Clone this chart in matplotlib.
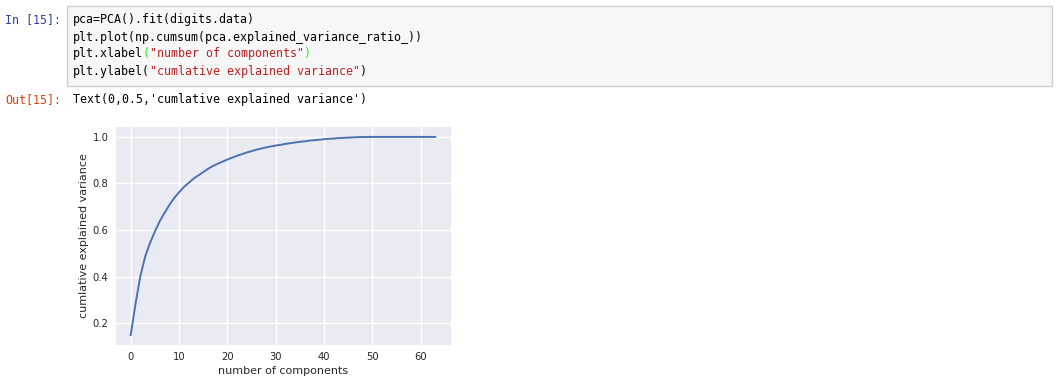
import matplotlib
matplotlib.use("Agg")
import matplotlib.pyplot as plt
from matplotlib.patches import Rectangle

# ---- data ----
components = list(range(64))
cumulative_variance = [
    0.149, 0.285, 0.403, 0.487, 0.545, 0.594, 0.638, 0.674, 0.708, 0.738,
    0.762, 0.785, 0.803, 0.821, 0.835, 0.849, 0.863, 0.875, 0.885, 0.894,
    0.903, 0.911, 0.919, 0.926, 0.933, 0.939, 0.945, 0.950, 0.955, 0.959,
    0.963, 0.966, 0.970, 0.973, 0.976, 0.979, 0.981, 0.984, 0.986, 0.988,
    0.990, 0.992, 0.993, 0.995, 0.996, 0.997, 0.998, 0.999, 0.9995, 0.9998,
    1.0, 1.0, 1.0, 1.0, 1.0, 1.0, 1.0, 1.0, 1.0, 1.0,
    1.0, 1.0, 1.0, 1.0,
]
x_ticks = [0, 10, 20, 30, 40, 50, 60]
y_ticks = [0.2, 0.4, 0.6, 0.8, 1.0]
x_label = "number of components"
y_label = "cumlative explained variance"

code_lines = [
    [("pca=PCA().fit(digits.data)", "k")],
    [("plt.plot(np.cumsum(pca.explained_variance_ratio_))", "k")],
    [("plt.xlabel", "k"), ("(", "g"), ('"number of components"', "s"), (")", "g")],
    [("plt.ylabel(", "k"), ('"cumlative explained variance"', "s"), (")", "k")],
]
out_text = "Text(0,0.5,'cumlative explained variance')"

W, H = 1058, 385
DPI = 100
fig = plt.figure(figsize=(W / DPI, H / DPI), dpi=DPI)
fig.patch.set_facecolor("white")

def px(x, y):
    return x / W, 1 - y / H

mono = "DejaVu Sans Mono"
fs_code = 7 / 0.602 * 72 / DPI  # 7px advance
colors = {"k": "#000000", "g": "#22ee22", "s": "#BA2121"}

# code cell box
x0, y0 = px(67, 6)
x1, y1 = px(1052, 86)
fig.patches.append(Rectangle((x0, y1), x1 - x0, y0 - y1, transform=fig.transFigure,
                             facecolor="#f7f7f7", edgecolor="#cfcfcf", linewidth=1))

# prompts
fig.text(*px(61, 20), "In [15]:", color="#303F9F", family=mono, fontsize=fs_code,
         ha="right", va="center")
fig.text(*px(61, 100), "Out[15]:", color="#D84315", family=mono, fontsize=fs_code,
         ha="right", va="center")

line_y = [20, 37, 54, 71]
for yy, segs in zip(line_y, code_lines):
    col = 0
    for txt, c in segs:
        fig.text(*px(73 + 7 * col, yy), txt, color=colors[c], family=mono,
                 fontsize=fs_code, ha="left", va="center")
        col += len(txt)

fig.text(*px(73, 100), out_text, color="#000000", family=mono, fontsize=fs_code,
         ha="left", va="center")

# axes
ax_l, ax_r, ax_t, ax_b = 115.5, 450.5, 127, 345
ax = fig.add_axes([ax_l / W, 1 - ax_b / H, (ax_r - ax_l) / W, (ax_b - ax_t) / H])
ax.set_facecolor("#EAEAF2")
for s in ax.spines.values():
    s.set_visible(False)
ax.grid(True, color="white", linewidth=1.0)
ax.set_axisbelow(True)
ax.plot(components, cumulative_variance, color="#4C72B0", linewidth=1.4)
ax.set_xticks(x_ticks)
ax.set_yticks(y_ticks)
ax.set_xticklabels([str(t) for t in x_ticks])
ax.set_yticklabels([f"{t:.1f}" for t in y_ticks])
ax.tick_params(length=0, labelsize=7.2, colors="#262626", pad=5)
ax.set_xlabel(x_label, fontsize=8, color="#262626", labelpad=3)
ax.set_ylabel(y_label, fontsize=8, color="#262626", labelpad=3)

fig.savefig("out.png", dpi=DPI)
